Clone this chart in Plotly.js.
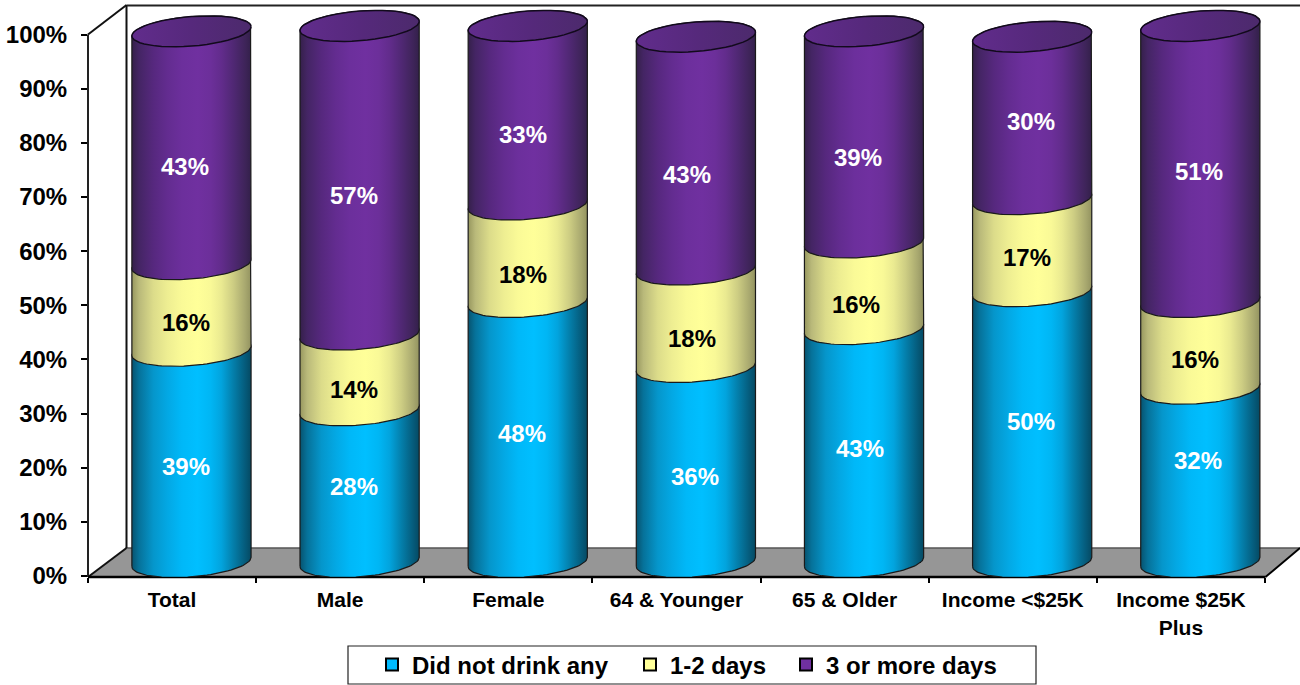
<!DOCTYPE html>
<html>
<head>
<meta charset="utf-8">
<script src="https://cdn.plot.ly/plotly-3.0.1.min.js"></script>
<style>html,body{margin:0;padding:0;background:#fff}#chart{width:1300px;height:685px}</style>
</head>
<body>
<div id="chart"></div>
<script>
const categories = ['Total', 'Male', 'Female', '64 & Younger', '65 & Older', 'Income <$25K', 'Income $25K<br>Plus'];
const seriesNames = ['Did not drink any', '1-2 days', '3 or more days'];
const didNotDrink = [39, 28, 48, 36, 43, 50, 32];
const oneTwoDays = [16, 14, 18, 18, 16, 17, 16];
const threePlusDays = [43, 57, 33, 43, 39, 30, 51];
const yTicks = [0, 10, 20, 30, 40, 50, 60, 70, 80, 90, 100];
const yTickText = ['0%', '10%', '20%', '30%', '40%', '50%', '60%', '70%', '80%', '90%', '100%'];

// hand placement of the data labels, in pixels
const labelShiftX = [[-5.5,-5.6,-5.8,-1,-4,-1,-2.3], [-5.5,-5.6,-4.8,-4,-8,-5,-5.3], [-6.5,-5.6,-4.8,-9,-6,-1,-1.3]];
const labelShiftY = [[-9.6,-0.8,-1,-11.5,-3.4,5.6,14.4], [-14.5,-17.5,-20.7,-19.7,-18.2,-11.8,-13.6], [-19.2,-14.8,-19.7,-21.8,-20.1,-4,-7]];

const FONT = '"Liberation Sans", Arial, sans-serif';
const W = 1300, H = 685;
const L = 88, T = 5, B = 577;          // plot frame in pixels
const catW = 168.14, pctH = 5.415;     // pixels per category, per percent
const depthX = 19.4, depthY = 14;      // bars stand behind the front plane
const zeroPx = 576;
const xr = [-0.5, -0.5 + (W - L) / catW];
const yr = [(zeroPx - B) / pctH, (zeroPx - T) / pctH];
const xr2 = [xr[0] - depthX / catW, xr[1] - depthX / catW];
const yr2 = [yr[0] - depthY / pctH, yr[1] - depthY / pctH];
const idx = categories.map((_, i) => i);

const seriesVals = [didNotDrink, oneTwoDays, threePlusDays];
const solid = ['#00bbff', '#ffff99', '#7030a0'];
const grads = [
  [[0,'#07536f'],[0.06,'#06729a'],[0.18,'#0596cb'],[0.3,'#03a8e4'],[0.42,'#00b8f8'],[0.55,'#00bfff'],[0.66,'#00b6f4'],[0.75,'#02a4de'],[0.85,'#047fab'],[0.95,'#055b7b'],[1,'#054a63']],
  [[0,'#97975f'],[0.06,'#b9b97a'],[0.18,'#dcdc8a'],[0.3,'#eeee92'],[0.42,'#fafa97'],[0.55,'#ffff99'],[0.66,'#f9f997'],[0.75,'#eaea91'],[0.85,'#cdcd83'],[0.95,'#a8a86f'],[1,'#939360']],
  [[0,'#35204a'],[0.06,'#442564'],[0.18,'#56287e'],[0.3,'#632c90'],[0.42,'#6c2f9c'],[0.55,'#7030a0'],[0.66,'#6c2f9a'],[0.75,'#622c8c'],[0.85,'#502874'],[0.95,'#3e2459'],[1,'#33204a']]
];
const capGrad = [[0,'#612c8c'],[0.5,'#56297c'],[1,'#4c2a6c']];

// cylinder ellipse, tilted as in the 3-D view
const ax = 59.6 / catW, by = 14.8 / pctH, tilt = 4.6 / pctH;
const STEPS = 48;
function arc(cx, cy, from, to) {
  const xs = [], ys = [];
  for (let k = 0; k <= STEPS; k++) {
    const t = from + (to - from) * k / STEPS;
    xs.push(cx + ax * Math.cos(t));
    ys.push(cy - by * Math.sin(t) + tilt * Math.cos(t));
  }
  return [xs, ys];
}

const traces = [];
traces.push({type:'scatter', x:[0], y:[0], xaxis:'x', yaxis:'y', mode:'none', showlegend:false, hoverinfo:'skip'});

seriesVals.forEach((vals, s) => {
  traces.push({
    type:'bar', name:seriesNames[s], x:idx, y:vals, xaxis:'x2', yaxis:'y2',
    marker:{color:solid[s], line:{color:'#000', width:2}},
    legend: s === 0 ? 'legend' : 'legend' + (s + 1),
    hovertemplate:'%{y}%<extra>' + seriesNames[s] + '</extra>'
  });
});

const annotations = [];
idx.forEach(i => {
  let base = 0;
  seriesVals.forEach((vals, s) => {
    const top = base + vals[i];
    const low = arc(i, base, Math.PI, 0);        // front edge of the lower rim
    const up = arc(i, top, 0, -Math.PI);         // back edge of the upper rim
    traces.push({
      type:'scatter', mode:'lines', xaxis:'x2', yaxis:'y2', showlegend:false, hoverinfo:'skip',
      x: low[0].concat(up[0], [low[0][0]]), y: low[1].concat(up[1], [low[1][0]]),
      fill:'toself', fillgradient:{type:'horizontal', colorscale:grads[s], start:i - ax, stop:i + ax},
      line:{color:'#1a1a1a', width:1.2}
    });
    annotations.push({
      xref:'x2', yref:'y2', x:i, y:base + vals[i] / 2, text:vals[i] + '%', showarrow:false,
      xshift:labelShiftX[s][i], yshift:labelShiftY[s][i],
      font:{family:FONT, size:24, weight:700, color: s === 1 ? '#000' : '#fff'}
    });
    base = top;
  });
  const cap = arc(i, base, 0, 2 * Math.PI);
  traces.push({
    type:'scatter', mode:'lines', xaxis:'x2', yaxis:'y2', showlegend:false, hoverinfo:'skip',
    x:cap[0], y:cap[1], fill:'toself', fillgradient:{type:'horizontal', colorscale:capGrad, start:i - ax, stop:i + ax},
    line:{color:'#120a1c', width:1.5}
  });
});

// paper coordinates from pixels
const px = x => (x - L) / (W - L);
const py = y => (B - y) / (B - T);
function pathPx(pts) {
  return pts.map((p, i) => (i ? 'L' : 'M') + px(p[0]) + ',' + py(p[1])).join(' ') + ' Z';
}
function seg(x0, y0, x1, y1, color, width) {
  return {type:'line', xref:'paper', yref:'paper', x0:px(x0), y0:py(y0), x1:px(x1), y1:py(y1),
          line:{color:color, width:width}, layer:'below'};
}
const shapes = [
  {type:'path', xref:'paper', yref:'paper', layer:'below', path:pathPx([[88,577],[126.5,548],[1300,548],[1265.5,577]]),
   fillcolor:'#969696', line:{width:0}},
  seg(126.5,548,1300,548,'#555',1.5),
  seg(126.5,5,126.5,548,'#111',2),
  seg(126.5,5.5,1300,5.5,'#222',2),
  seg(88,34.5,126.5,5,'#111',2),
  seg(88,34.5,88,577,'#222',2),
  seg(88,577,126.5,548,'#111',2),
  seg(88,577,1265.5,577,'#000',2.5),
  seg(1265.5,577,1300,548,'#000',2),
  {type:'rect', xref:'paper', yref:'paper', x0:px(348), x1:px(1036), y0:py(646), y1:py(684),
   line:{color:'#222', width:1.2}, fillcolor:'#fff', layer:'below'}
];

// legends sit in container coordinates so they do not push the plot margins
const legendBase = {orientation:'h', xref:'container', yref:'container', xanchor:'left', yanchor:'middle',
  y:1 - 665 / H, bgcolor:'rgba(0,0,0,0)', borderwidth:0,
  font:{family:FONT, size:24, weight:700, color:'#000'}};

const layout = {
  width:W, height:H, autosize:false,
  margin:{l:L, r:0, t:T, b:H - B, pad:0},
  paper_bgcolor:'#fff', plot_bgcolor:'rgba(0,0,0,0)',
  barmode:'stack', bargap:0.34, showlegend:true,
  xaxis:{type:'linear', range:xr, fixedrange:true, showgrid:false, zeroline:false, showline:false,
    tickmode:'array', tickvals:idx, ticktext:categories, ticks:'outside', ticklen:4, tickcolor:'rgba(0,0,0,0)',
    tickfont:{family:FONT, size:21, weight:700, color:'#000'},
    minor:{tickmode:'array', tickvals:[-0.5,0.5,1.5,2.5,3.5,4.5,5.5,6.5], ticks:'outside', ticklen:5, tickwidth:1.5, tickcolor:'#000', showgrid:false}},
  yaxis:{type:'linear', range:yr, fixedrange:true, showgrid:false, zeroline:false, showline:false,
    tickmode:'array', tickvals:yTicks, ticktext:yTickText, ticks:'outside', ticklen:6, tickwidth:1.5, tickcolor:'#000',
    ticklabelstandoff:9,
    tickfont:{family:FONT, size:24, weight:700, color:'#000'}},
  xaxis2:{type:'linear', overlaying:'x', anchor:'y2', range:xr2, fixedrange:true, visible:false},
  yaxis2:{type:'linear', overlaying:'y', anchor:'x2', range:yr2, fixedrange:true, visible:false},
  legend:Object.assign({}, legendBase, {x:(412 - 40) / W}),
  legend2:Object.assign({}, legendBase, {x:(670 - 40) / W}),
  legend3:Object.assign({}, legendBase, {x:(826 - 40) / W}),
  shapes:shapes, annotations:annotations
};

Plotly.newPlot('chart', traces, layout, {displayModeBar:false, responsive:false});
</script>
</body>
</html>
